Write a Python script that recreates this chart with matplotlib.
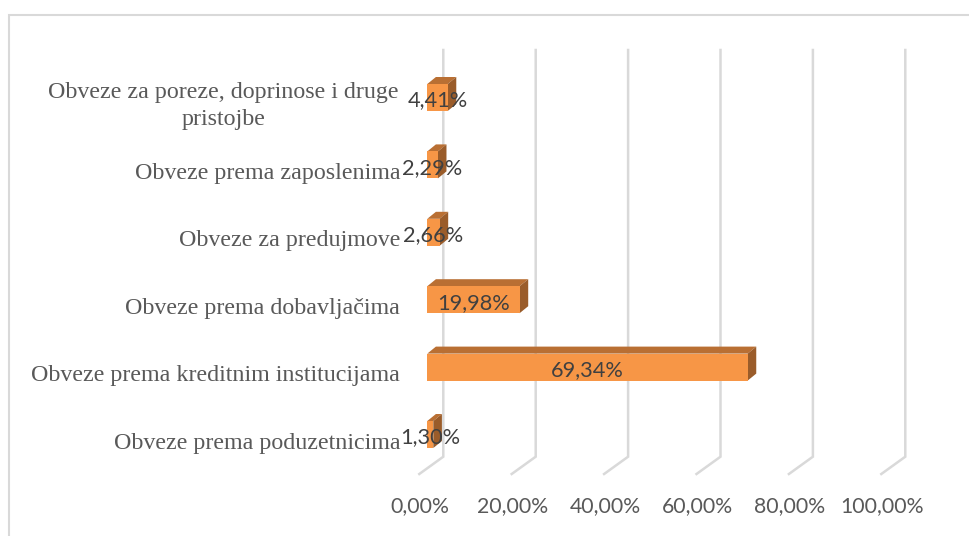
import matplotlib
matplotlib.use("Agg")
import matplotlib.pyplot as plt
from matplotlib.patches import Polygon, Rectangle

categories = [
    "Obveze prema poduzetnicima",
    "Obveze prema kreditnim institucijama",
    "Obveze prema dobavljačima",
    "Obveze za predujmove",
    "Obveze prema zaposlenima",
    "Obveze za poreze, doprinose i druge\npristojbe",
]
values = [1.30, 69.34, 19.98, 2.66, 2.29, 4.41]
value_labels = ["1,30%", "69,34%", "19,98%", "2,66%", "2,29%", "4,41%"]
ticks = [0, 20, 40, 60, 80, 100]
tick_labels = ["0,00%", "20,00%", "40,00%", "60,00%", "80,00%", "100,00%"]

W, H = 970, 536
PX_PER_PCT = 4.62   # px for one percent
PX_PER_CAT = 67.4   # px between categories
X0 = 427.3          # px of 0% on the bar front
Y0 = 434.5          # px of the first bar centre

fig = plt.figure(figsize=(W / 100, H / 100), dpi=100, facecolor="white")
ax = fig.add_axes([0, 0, 1, 1])
ax.set_xlim(-X0 / PX_PER_PCT, (W - X0) / PX_PER_PCT)
ax.set_ylim((Y0 - H) / PX_PER_CAT, Y0 / PX_PER_CAT)
ax.axis("off")

# pixel offsets turned into data units
def px(dx):
    return dx / PX_PER_PCT

def py(dy):
    return dy / PX_PER_CAT

# outer frame, only left and top edges are in view
ax.plot([px(8.5 - X0), px(8.5 - X0), px(W - X0)], [py(Y0 - H), py(Y0 - 15), py(Y0 - 15)],
        color="#D9D9D9", lw=1.5, solid_joinstyle="miter", zorder=0)

# gridlines: back wall plus the floor diagonal
top_py, back_py = py(Y0 - 50), py(Y0 - 456.7)
floor_py = py(Y0 - 474)
for t in ticks:
    ax.plot([t + px(16), t + px(16), t - px(8)], [top_py, back_py, floor_py],
            color="#D9D9D9", lw=1.8, solid_joinstyle="miter", zorder=1)

# 3d bars
depth_x, depth_y = px(8.6), py(7)
half = py(13.5)
for i, v in enumerate(values):
    ax.add_patch(Polygon([(0, i + half), (v, i + half), (v + depth_x, i + half + depth_y), (depth_x, i + half + depth_y)],
                         fc="#B96F33", ec="none", zorder=2))
    ax.add_patch(Polygon([(v, i - half), (v + depth_x, i - half + depth_y), (v + depth_x, i + half + depth_y), (v, i + half)],
                         fc="#9A5C2A", ec="none", zorder=2))
    ax.add_patch(Rectangle((0, i - half), v, 2 * half, fc="#F79646", ec="none", zorder=3))
    ax.text(v / 2, i - py(3), value_labels[i], ha="center", va="center",
            family="Lato", fontsize=15.7, color="#404040", zorder=4)

for i, c in enumerate(categories):
    two_lines = "\n" in c
    ax.text(px(223.5 - X0) if two_lines else px(-27), i - py(8.5), c,
            ha="center" if two_lines else "right", va="center",
            family="Liberation Serif", fontsize=17.3, color="#595959", linespacing=1.33, zorder=4)

for t, lab in zip(ticks, tick_labels):
    ax.text(t - px(7), py(Y0 - 506), lab, ha="center", va="center",
            family="Lato", fontsize=15.3, color="#595959", zorder=4)

fig.savefig("out.png", dpi=100)
